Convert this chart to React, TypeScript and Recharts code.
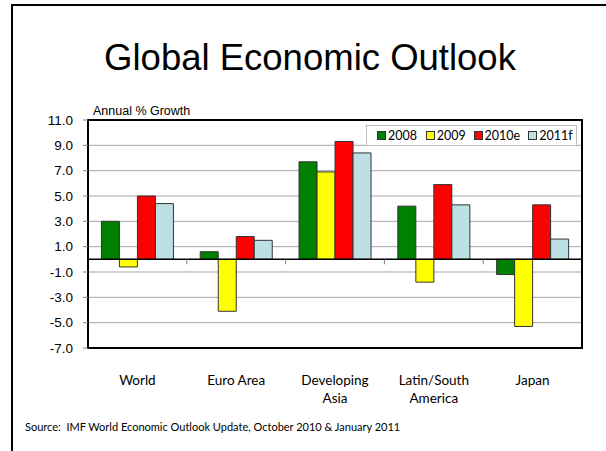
import React from "react";
import {
  BarChart,
  Bar,
  XAxis,
  YAxis,
  CartesianGrid,
  ReferenceLine,
  ReferenceArea,
} from "recharts";

const regions = ["World", "Euro Area", "Developing Asia", "Latin/South America", "Japan"];
const labelLines = [["World"], ["Euro Area"], ["Developing", "Asia"], ["Latin/South", "America"], ["Japan"]];
const g2008 = [3.0, 0.6, 7.7, 4.2, -1.2];
const g2009 = [-0.6, -4.1, 6.9, -1.8, -5.3];
const g2010 = [5.0, 1.8, 9.3, 5.9, 4.3];
const g2011 = [4.4, 1.5, 8.4, 4.3, 1.6];
const yTicks = [11, 9, 7, 5, 3, 1, -1, -3, -5, -7];

const seriesList = [
  { key: "y2008", name: "2008", color: "#008000" },
  { key: "y2009", name: "2009", color: "#FFFF00" },
  { key: "y2010", name: "2010e", color: "#FF0000" },
  { key: "y2011", name: "2011f", color: "#BCE0E4" },
];

const data = regions.map((r, i) => ({
  name: r,
  y2008: g2008[i],
  y2009: g2009[i],
  y2010: g2010[i],
  y2011: g2011[i],
}));

const bodyFont = "Lato, 'Open Sans', sans-serif";
const arial = "'Liberation Sans', Arial, sans-serif";

// plot box geometry (matches chart margins below)
const plotTop = 120;
const plotH = 228;
const plotW = 494;
const yMin = -7;
const yMax = 11;

// two-line category labels under the plot, plus the little divider ticks on the zero line
const CategoryTick = (props: any) => {
  const { x, index } = props;
  const lines = labelLines[index] || [];
  const zeroY = plotTop + ((yMax - 0) / (yMax - yMin)) * plotH;
  const half = plotW / regions.length / 2;
  return (
    <g>
      {index < regions.length - 1 && (
        <line x1={x + half} x2={x + half} y1={zeroY} y2={zeroY + 5} stroke="#808080" />
      )}
      {lines.map((l, k) => (
        <text
          key={k}
          x={x}
          y={plotTop + plotH + 37 + k * 18}
          textAnchor="middle"
          fontSize={13.5}
          fontFamily={bodyFont}
          fill="#000"
        >
          {l}
        </text>
      ))}
    </g>
  );
};

const itemWidths = [49, 48, 55, 48];

const LegendBox = () => (
  <div
    style={{
      position: "absolute",
      left: 366,
      top: 125,
      width: 211,
      height: 21,
      border: "1px solid #bfbfbf",
      background: "#fff",
      display: "flex",
      alignItems: "center",
      paddingLeft: 10,
      boxSizing: "border-box",
      fontFamily: bodyFont,
      fontSize: 12.5,
      color: "#000",
    }}
  >
    {seriesList.map((s, i) => (
      <span key={s.key} style={{ display: "flex", alignItems: "center", width: itemWidths[i], whiteSpace: "nowrap" }}>
        <span
          style={{
            display: "inline-block",
            width: 7,
            height: 7,
            background: s.color,
            border: "1px solid #333",
            marginRight: 2,
          }}
        />
        {s.name}
      </span>
    ))}
  </div>
);

export default function App() {
  return (
    <div
      style={{
        position: "absolute",
        left: 0,
        top: 0,
        width: 606,
        height: 451,
        background: "#fff",
        overflow: "hidden",
      }}
    >
      {/* slide frame */}
      <div style={{ position: "absolute", left: 11, top: 4, width: 600, height: 460, borderLeft: "2px solid #000", borderTop: "2px solid #000" }} />
      <div
        style={{
          position: "absolute",
          left: 0,
          width: 620,
          top: 37,
          textAlign: "center",
          fontFamily: arial,
          fontSize: 36.5,
          color: "#000",
        }}
      >
        Global Economic Outlook
      </div>
      <div style={{ position: "absolute", left: 93, top: 104, fontFamily: arial, fontSize: 12.5, color: "#000" }}>
        Annual % Growth
      </div>
      <div style={{ position: "absolute", left: 25, top: 420, fontFamily: bodyFont, fontSize: 11, color: "#000" }}>
        Source:&nbsp; IMF World Economic Outlook Update, October 2010 &amp; January 2011
      </div>
      <div style={{ position: "absolute", left: 0, top: 0 }}>
        <BarChart
          width={606}
          height={451}
          data={data}
          margin={{ top: 120, right: 24, left: 0, bottom: 53 }}
          barCategoryGap="13.6%"
          barGap={0}
        >
          <CartesianGrid vertical={false} stroke="#a6a6a6" strokeWidth={1} />
          <XAxis
            dataKey="name"
            height={50}
            axisLine={false}
            tickLine={false}
            interval={0}
            tick={<CategoryTick />}
          />
          <YAxis
            width={88}
            domain={[yMin, yMax]}
            ticks={yTicks}
            interval={0}
            tickFormatter={(v: number) => v.toFixed(1)}
            axisLine={false}
            tickLine={{ stroke: "#808080" }}
            tickSize={5}
            tickMargin={10}
            tick={{ fill: "#000", fontSize: 13.5, fontFamily: arial }}
          />
          {seriesList.map((s) => (
            <Bar
              key={s.key}
              dataKey={s.key}
              name={s.name}
              fill={s.color}
              stroke="#333"
              strokeWidth={1}
              isAnimationActive={false}
            />
          ))}
          <ReferenceLine y={0} stroke="#000" strokeWidth={1.5} />
          <ReferenceArea y1={yMin} y2={yMax} fill="none" stroke="#000" strokeWidth={2} />
        </BarChart>
      </div>
      <LegendBox />
    </div>
  );
}
